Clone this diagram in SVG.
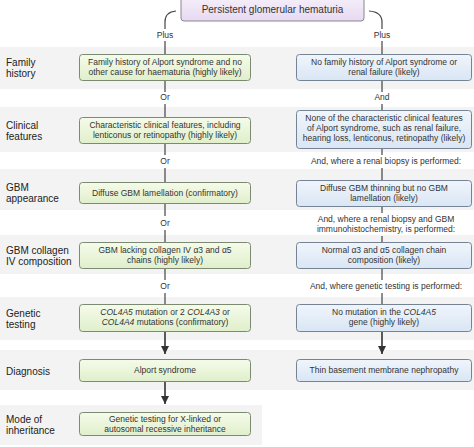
<svg xmlns="http://www.w3.org/2000/svg" width="474" height="447" viewBox="0 0 474 447">
<defs>
<linearGradient id="gG" x1="0" y1="0" x2="0" y2="1"><stop offset="0" stop-color="#f5fbea"/><stop offset="1" stop-color="#e0efcb"/></linearGradient>
<linearGradient id="gB" x1="0" y1="0" x2="0" y2="1"><stop offset="0" stop-color="#f0f5fc"/><stop offset="1" stop-color="#d9e6f4"/></linearGradient>
<linearGradient id="gP" x1="0" y1="0" x2="0" y2="1"><stop offset="0" stop-color="#f6f0fa"/><stop offset="1" stop-color="#e6d9f1"/></linearGradient>
<marker id="ah" viewBox="0 0 10 10" refX="10" refY="5" markerWidth="8" markerHeight="10" markerUnits="userSpaceOnUse" orient="auto"><path d="M0,0 L10,5 L0,10 Z" fill="#333"/></marker>
</defs>
<style>
.band{fill:#f3f3f3}
.g{fill:url(#gG);stroke:#7d8a72;stroke-width:1}
.b{fill:url(#gB);stroke:#758394;stroke-width:1}
.p{fill:url(#gP);stroke:#8a8490;stroke-width:1}
text{font-family:"Liberation Sans",Arial,Helvetica,sans-serif}
.t{font-size:8.5px;fill:#333;text-anchor:middle}
.tp{font-size:10px;fill:#333;text-anchor:middle}
.lab{font-size:10px;fill:#222}
.c{font-size:8.5px;fill:#333;text-anchor:middle}
.ln{fill:none;stroke:#444;stroke-width:1.2}
.ar{fill:none;stroke:#333;stroke-width:1.6}
i{font-style:italic}
.it{font-style:italic}
</style>
<rect width="474" height="447" fill="#fff"/>
<g id="bands">
<rect class="band" x="0" y="47" width="474" height="42"/>
<rect class="band" x="0" y="107" width="474" height="45"/>
<rect class="band" x="0" y="169" width="474" height="41"/>
<rect class="band" x="0" y="235" width="474" height="39"/>
<rect class="band" x="0" y="297" width="474" height="43"/>
<rect class="band" x="0" y="350" width="474" height="40"/>
<rect class="band" x="0" y="405" width="262" height="40"/>
</g>
<g id="row-labels">
<text class="lab" x="6" y="66">Family</text><text class="lab" x="6" y="77">history</text>
<text class="lab" x="6" y="129">Clinical</text><text class="lab" x="6" y="140">features</text>
<text class="lab" x="6" y="191">GBM</text><text class="lab" x="6" y="202">appearance</text>
<text class="lab" x="6" y="254">GBM collagen</text><text class="lab" x="6" y="265">IV composition</text>
<text class="lab" x="6" y="317">Genetic</text><text class="lab" x="6" y="328">testing</text>
<text class="lab" x="6" y="375">Diagnosis</text>
<text class="lab" x="6" y="423">Mode of</text><text class="lab" x="6" y="434">inheritance</text>
</g>
<g id="connectors">
<path class="ln" d="M176,11 Q165,12 165,22 L165,29 M165,41 L165,54"/>
<path class="ln" d="M369,11 Q382,12 382,22 L382,29 M382,41 L382,54"/>
<path class="ln" d="M165,80 V92 M165,104 V117 M165,143 V155 M165,168 V182 M165,203 V216 M165,230 V242 M165,268 V280 M165,293 V304"/>
<path class="ln" d="M382,80 V92 M382,104 V110 M382,149 V155 M382,168 V180 M382,206 V213 M382,236 V242 M382,269 V280 M382,293 V304"/>
<path class="ar" d="M165,332 V354" marker-end="url(#ah)"/>
<path class="ar" d="M382,332 V354" marker-end="url(#ah)"/>
<path class="ar" d="M165,381 V404" marker-end="url(#ah)"/>
<text class="c" x="165" y="38">Plus</text>
<text class="c" x="382" y="38">Plus</text>
<text class="c" x="165" y="100">Or</text>
<text class="c" x="382" y="100">And</text>
<text class="c" x="165" y="164">Or</text>
<text class="c" x="386" y="164">And, where a renal biopsy is performed:</text>
<text class="c" x="165" y="226">Or</text>
<text class="c" x="386" y="222">And, where a renal biopsy and GBM</text>
<text class="c" x="386" y="232">immunohistochemistry, is performed:</text>
<text class="c" x="165" y="289">Or</text>
<text class="c" x="386" y="289">And, where genetic testing is performed:</text>
</g>
<g id="start">
<rect class="p" x="181" y="-4" width="183" height="25" rx="3"/>
<text class="tp" x="272.5" y="13">Persistent glomerular hematuria</text>
</g>
<g id="L1"><rect class="g" x="79.5" y="54.5" width="171" height="26" rx="3"/>
<text class="t" x="165" y="65">Family history of Alport syndrome and no</text><text class="t" x="165" y="75">other cause for haematuria (highly likely)</text></g>
<g id="L2"><rect class="g" x="79.5" y="117.5" width="171" height="26" rx="3"/>
<text class="t" x="165" y="128">Characteristic clinical features, including</text><text class="t" x="165" y="138">lenticonus or retinopathy (highly likely)</text></g>
<g id="L3"><rect class="g" x="79.5" y="182.5" width="171" height="21" rx="3"/>
<text class="t" x="165" y="196">Diffuse GBM lamellation (confirmatory)</text></g>
<g id="L4"><rect class="g" x="79.5" y="242.5" width="171" height="26" rx="3"/>
<text class="t" x="165" y="253">GBM lacking collagen IV α3 and α5</text><text class="t" x="165" y="263">chains (highly likely)</text></g>
<g id="L5"><rect class="g" x="79.5" y="304.5" width="171" height="27" rx="3"/>
<text class="t" x="165" y="315"><tspan class="it">COL4A5</tspan> mutation or 2 <tspan class="it">COL4A3</tspan> or</text><text class="t" x="165" y="325"><tspan class="it">COL4A4</tspan> mutations (confirmatory)</text></g>
<g id="L6"><rect class="g" x="79.5" y="359.5" width="171" height="22" rx="3"/>
<text class="t" x="165" y="373">Alport syndrome</text></g>
<g id="L7"><rect class="g" x="79.5" y="412.5" width="171" height="23" rx="3"/>
<text class="t" x="165" y="422">Genetic testing for X-linked or</text><text class="t" x="165" y="432">autosomal recessive inheritance</text></g>
<g id="R1"><rect class="b" x="296.5" y="54.5" width="175" height="26" rx="3"/>
<text class="t" x="384" y="65">No family history of Alport syndrome or</text><text class="t" x="384" y="75">renal failure (likely)</text></g>
<g id="R2"><rect class="b" x="296.5" y="110.5" width="175" height="38" rx="3"/>
<text class="t" x="384" y="121">None of the characteristic clinical features</text><text class="t" x="384" y="131">of Alport syndrome, such as renal failure,</text><text class="t" x="384" y="141">hearing loss, lenticonus, retinopathy (likely)</text></g>
<g id="R3"><rect class="b" x="296.5" y="180.5" width="175" height="26" rx="3"/>
<text class="t" x="384" y="191">Diffuse GBM thinning but no GBM</text><text class="t" x="384" y="201">lamellation (likely)</text></g>
<g id="R4"><rect class="b" x="296.5" y="242.5" width="175" height="26" rx="3"/>
<text class="t" x="384" y="253">Normal α3 and α5 collagen chain</text><text class="t" x="384" y="263">composition (likely)</text></g>
<g id="R5"><rect class="b" x="296.5" y="304.5" width="175" height="27" rx="3"/>
<text class="t" x="384" y="315">No mutation in the <tspan class="it">COL4A5</tspan></text><text class="t" x="384" y="325">gene (highly likely)</text></g>
<g id="R6"><rect class="b" x="296.5" y="359.5" width="175" height="22" rx="3"/>
<text class="t" x="384" y="373">Thin basement membrane nephropathy</text></g>
</svg>
